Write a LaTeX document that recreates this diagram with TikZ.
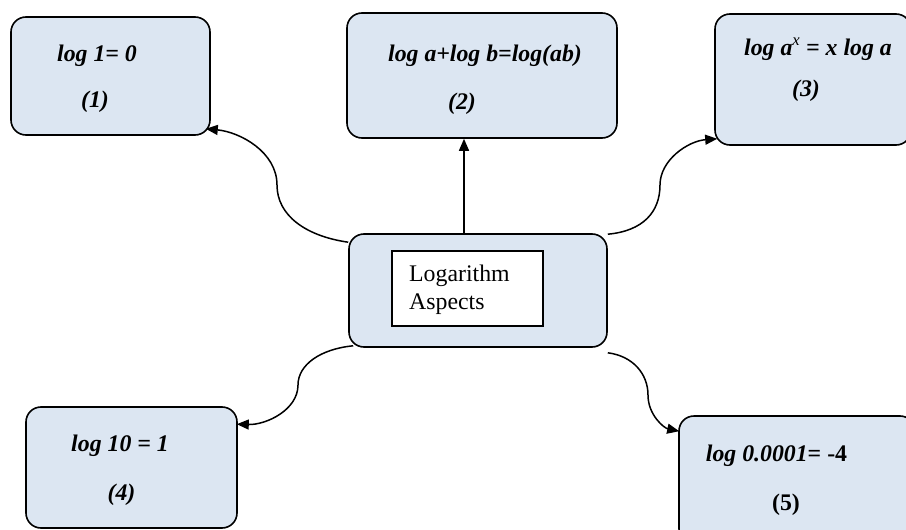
\documentclass[tikz,border=0pt]{standalone}
\usepackage{fontspec}
\setmainfont{Liberation Serif}
\usetikzlibrary{arrows.meta,calc}
\definecolor{boxblue}{HTML}{DCE6F2}
\tikzset{
  box/.style={draw=black, line width=1.6pt, rounded corners=15pt, fill=boxblue, inner sep=0pt},
  inner/.style={draw=black, line width=1.3pt, fill=white, inner sep=0pt},
  formula/.style={font=\fontsize{23.8}{28}\selectfont\bfseries\itshape, anchor=base, inner sep=0pt},
  plain/.style={font=\fontsize{23.8}{28}\selectfont, anchor=base west, inner sep=0pt},
  conn/.style={line width=1.5pt, -{Triangle[length=12pt,width=10pt]}}
}
\begin{document}
\begin{tikzpicture}[x=1pt,y=-1pt]
\path[use as bounding box] (0,0) rectangle (906,530);
\clip (0,0) rectangle (906,530);
% boxes
\node[box, minimum width=199pt, minimum height=118pt] (b1) at (110.5,76) {};
\node[box, minimum width=270pt, minimum height=125pt] (b2) at (482,75.5) {};
\node[box, minimum width=196pt, minimum height=131pt] (b3) at (813,79.5) {};
\node[box, minimum width=258pt, minimum height=113pt] (c) at (478,290.5) {};
\node[inner, minimum width=151pt, minimum height=75pt] (ci) at (467.5,288.5) {};
\node[box, minimum width=211pt, minimum height=121pt] (b4) at (131.5,467.5) {};
\node[box, minimum width=236pt, minimum height=128pt] (b5) at (797,480) {};
% texts
\node[formula] (t1a) at (97,61) {log 1= 0};
\node[formula] (t1b) at (95,107) {(1)};
\node[formula] (t2a) at (485,61) {log a+log b=log(ab)};
\node[formula] (t2b) at (462,109) {(2)};
\node[formula] (t3a) at (818,55) {log a\textsuperscript{\mdseries x} = x log a};
\node[formula] (t3b) at (806,96) {(3)};
\node[plain] (tc1) at (409,281) {Logarithm};
\node[plain] (tc2) at (409,309) {Aspects};
\node[formula] (t4a) at (120,451) {log 10 = 1};
\node[formula] (t4b) at (121.5,500) {(4)};
\node[formula] (t5a) at (776.5,461) {log 0.0001{\upshape= -4}};
\node[formula, font=\fontsize{23.8}{28}\selectfont\bfseries] (t5b) at (786,510) {(5)};
% connector end points
\coordinate (s1) at ($(c.north west)+(0,9)$);
\coordinate (e1) at ($(b1.south east)+(-5,-7)$);
\coordinate (s2) at ($(c.north)+(-14,0)$);
\coordinate (e2) at ($(b2.south)+(-18,0)$);
\coordinate (s3) at ($(c.north east)+(0,1)$);
\coordinate (e3) at ($(b3.south west)+(3,-7)$);
\coordinate (s4) at ($(c.south west)+(5,-2)$);
\coordinate (e4) at ($(b4.north east)+(-1,18)$);
\coordinate (s5) at ($(c.south east)+(0,5)$);
\coordinate (e5) at ($(b5.north west)+(1,16)$);
% connectors
\draw[conn] (s1) .. controls (305,236) and (277,215) .. (277,185) .. controls (277,152) and (240,132) .. (e1);
\draw[conn] (s2) -- (e2);
\draw[conn] (s3) .. controls (643,231) and (660,212) .. (660,185) .. controls (660,160) and (688,141) .. (e3);
\draw[conn] (s4) .. controls (320,349) and (298,365) .. (298,385) .. controls (298,410) and (266,425) .. (e4);
\draw[conn] (s5) .. controls (633,356) and (648,374) .. (648,395) .. controls (648,415) and (664,428) .. (e5);
\end{tikzpicture}
\end{document}
